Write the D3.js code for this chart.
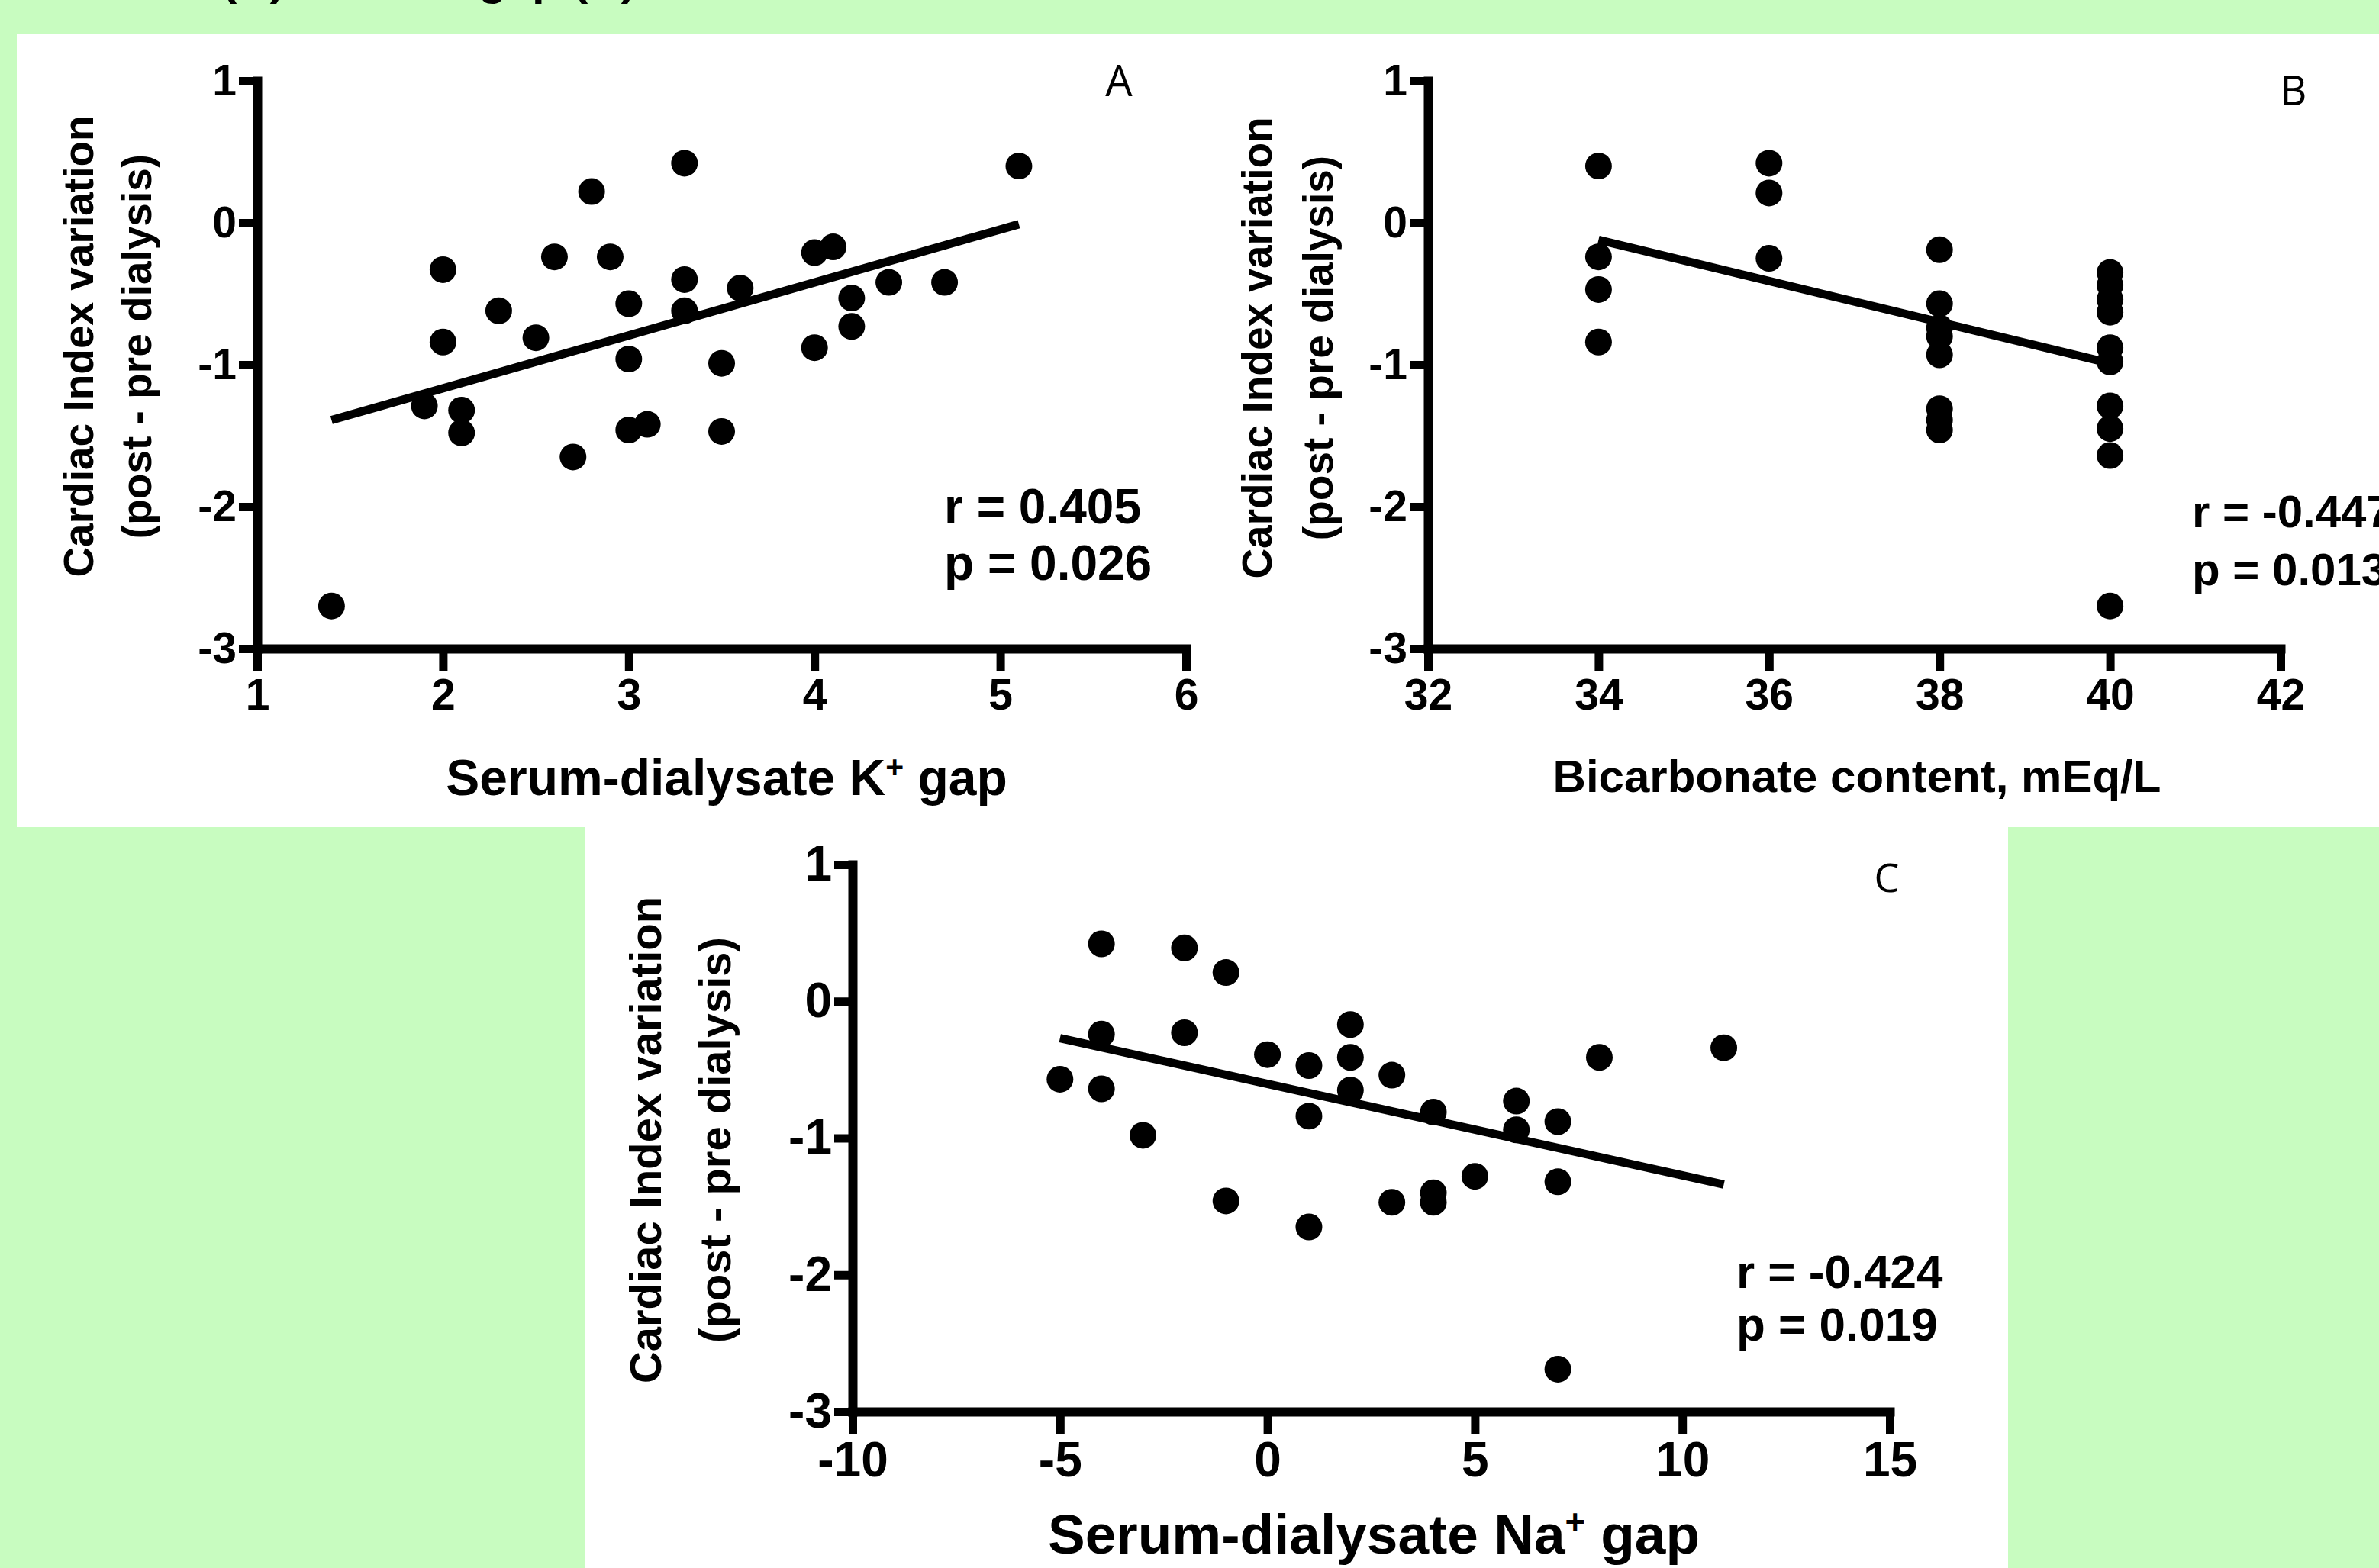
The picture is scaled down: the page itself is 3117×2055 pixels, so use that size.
<!DOCTYPE html>
<html>
<head>
<meta charset="utf-8">
<script src="https://cdn.jsdelivr.net/npm/d3@7"></script>
<style>
  html, body { margin: 0; padding: 0; background: #c8fcc0; }
  svg { display: block; }
</style>
</head>
<body>
<div id="chart"></div>
<script>
// A - serum-dialysate K+ gap
var kGap = [1.4, 1.9, 2.0, 2.0, 2.1, 2.1, 2.3, 2.5, 2.6, 2.7, 2.8, 2.9, 3.0, 3.0, 3.0,
            3.1, 3.3, 3.3, 3.3, 3.5, 3.5, 3.6, 4.0, 4.0, 4.1, 4.2, 4.2, 4.4, 4.7, 5.1];
var kCI = [-2.70, -1.29, -0.33, -0.84, -1.32, -1.48, -0.62, -0.81, -0.24, -1.65, 0.22, -0.24, -0.57, -0.96, -1.46,
           -1.42, 0.42, -0.40, -0.62, -0.99, -1.47, -0.46, -0.88, -0.21, -0.17, -0.53, -0.73, -0.42, -0.42, 0.40];
var kFitX = [1.4, 5.1];
var kFitY = [-1.39, -0.01];
var kTicks = [1, 2, 3, 4, 5, 6];
var kStats = ["r = 0.405", "p = 0.026"];

// B - bicarbonate content
var bicarb = [34, 34, 34, 34, 36, 36, 36, 38, 38, 38, 38, 38, 38, 38, 38,
              40, 40, 40, 40, 40, 40, 40, 40, 40, 40];
var bicarbCI = [0.40, -0.24, -0.47, -0.84, 0.42, 0.21, -0.25, -0.19, -0.57, -0.74, -0.80, -0.93, -1.31, -1.39, -1.46,
                -0.35, -0.44, -0.54, -0.63, -0.88, -0.98, -1.29, -1.45, -1.64, -2.70];
var bicarbFitX = [34, 40];
var bicarbFitY = [-0.12, -0.99];
var bicarbTicks = [32, 34, 36, 38, 40, 42];
var bicarbStats = ["r = -0.447", "p = 0.013"];

// C - serum-dialysate Na+ gap
var naGap = [-5, -4, -4, -4, -3, -2, -2, -1, -1, 0, 1, 1, 1, 2, 2,
             2, 3, 3, 4, 4, 4, 5, 6, 6, 7, 7, 7, 8, 11];
var naCI = [-0.57, 0.42, -0.24, -0.64, -0.98, 0.39, -0.23, 0.21, -1.46, -0.39, -0.47, -0.84, -1.65, -0.17, -0.41,
            -0.65, -0.54, -1.47, -0.81, -1.40, -1.47, -1.28, -0.73, -0.94, -0.88, -1.32, -2.69, -0.41, -0.34];
var naFitX = [-5, 11];
var naFitY = [-0.27, -1.34];
var naTicks = [-10, -5, 0, 5, 10, 15];
var naStats = ["r = -0.424", "p = 0.019"];

var ciTicks = [1, 0, -1, -2, -3];
var yTitle = ["Cardiac Index variation", "(post - pre dialysis)"];

var W = 3117, H = 2055;
var bold = "'Liberation Sans', Arial, sans-serif";

var svg = d3.select("#chart").append("svg")
  .attr("width", W)
  .attr("height", H);

svg.append("rect")
  .attr("width", W)
  .attr("height", H)
  .attr("fill", "#c8fcc0");

// title line, almost all of it is above the top edge
svg.append("text")
  .attr("x", 57)
  .attr("y", -7)
  .attr("font-family", bold)
  .attr("font-weight", "bold")
  .attr("font-size", 60)
  .text("content (B) and Na\u207A gap (C)");

svg.append("rect").attr("x", 22).attr("y", 44).attr("width", W - 22).attr("height", 1040).attr("fill", "#fff");
svg.append("rect").attr("x", 766).attr("y", 1080).attr("width", 1865).attr("height", H - 1080).attr("fill", "#fff");

function drawPanel(o) {
  var x = d3.scaleLinear().domain(o.xDomain).range([o.left, o.right]);
  var y = d3.scaleLinear().domain([-3, 1]).range([o.bottom, o.top]);
  var g = svg.append("g").attr("class", "panel");

  var xAxis = d3.axisBottom(x)
    .tickValues(o.xTicks)
    .tickSize(30)
    .tickSizeOuter(0)
    .tickPadding(10)
    .tickFormat(String);
  var yAxis = d3.axisLeft(y)
    .tickValues(ciTicks)
    .tickSize(24)
    .tickSizeOuter(0)
    .tickPadding(3)
    .tickFormat(String);

  var gx = g.append("g")
    .attr("transform", "translate(0," + o.bottom + ")")
    .call(xAxis);
  var gy = g.append("g")
    .attr("transform", "translate(" + o.left + ",0)")
    .call(yAxis);

  [gx, gy].forEach(function(a) {
    a.attr("font-family", bold)
      .attr("font-weight", "bold")
      .attr("font-size", o.tickFont);
    a.select(".domain")
      .attr("stroke", "#000")
      .attr("stroke-width", 12)
      .attr("stroke-linecap", "square");
    a.selectAll(".tick line")
      .attr("stroke", "#000")
      .attr("stroke-width", 11);
    a.selectAll(".tick text").attr("fill", "#000");
  });

  // regression line
  var line = d3.line()
    .x(function(d) { return x(d[0]); })
    .y(function(d) { return y(d[1]); });
  g.append("path")
    .datum(d3.zip(o.fitX, o.fitY))
    .attr("d", line)
    .attr("fill", "none")
    .attr("stroke", "#000")
    .attr("stroke-width", 11);

  g.selectAll(".dot")
    .data(d3.zip(o.xs, o.ys))
    .enter()
    .append("circle")
    .attr("class", "dot")
    .attr("cx", function(d) { return x(d[0]); })
    .attr("cy", function(d) { return y(d[1]); })
    .attr("r", 17.5)
    .attr("fill", "#000");

  // y title, two rotated lines
  yTitle.forEach(function(t, i) {
    g.append("text")
      .attr("transform", "translate(" + o.yTitleX[i] + "," + o.yTitleY + ") rotate(-90)")
      .attr("dy", "0.36em")
      .attr("text-anchor", "middle")
      .attr("font-family", bold)
      .attr("font-weight", "bold")
      .attr("font-size", o.yTitleFont)
      .text(t);
  });

  var xt = g.append("text")
    .attr("x", o.xTitle[0])
    .attr("y", o.xTitle[1])
    .attr("text-anchor", "middle")
    .attr("font-family", bold)
    .attr("font-weight", "bold")
    .attr("font-size", o.xTitleFont);
  xt.append("tspan").text(o.xTitleText[0]);
  if (o.xTitleText.length > 1) {
    xt.append("tspan").attr("dy", -o.xTitleFont * 0.35).attr("font-size", o.xTitleFont * 0.62).text(o.xTitleText[1]);
    xt.append("tspan").attr("dy", o.xTitleFont * 0.35).text(o.xTitleText[2]);
  }

  g.append("text")
    .attr("x", o.letter[0])
    .attr("y", o.letter[1])
    .attr("text-anchor", "middle")
    .attr("font-family", "'Open Sans', 'Liberation Sans', sans-serif")
    .attr("font-size", o.letterFont)
    .text(o.letterText);

  o.stats.forEach(function(t, i) {
    g.append("text")
      .attr("x", o.statsX)
      .attr("y", o.statsY[i])
      .attr("font-family", bold)
      .attr("font-weight", "bold")
      .attr("font-size", o.statsFont)
      .text(t);
  });
}

drawPanel({
  xs: kGap, ys: kCI, fitX: kFitX, fitY: kFitY, xTicks: kTicks, stats: kStats,
  xDomain: [1, 6], left: 337, right: 1554, top: 106, bottom: 850,
  tickFont: 57,
  yTitleX: [102, 178], yTitleY: 454, yTitleFont: 55,
  xTitle: [952, 1042], xTitleFont: 66, xTitleText: ["Serum-dialysate K", "+", " gap"],
  letter: [1466, 126], letterFont: 56, letterText: "A",
  statsX: 1237, statsY: [686, 760], statsFont: 64
});

drawPanel({
  xs: bicarb, ys: bicarbCI, fitX: bicarbFitX, fitY: bicarbFitY, xTicks: bicarbTicks, stats: bicarbStats,
  xDomain: [32, 42], left: 1871, right: 2988, top: 106, bottom: 850,
  tickFont: 57,
  yTitleX: [1646, 1726], yTitleY: 456, yTitleFont: 55,
  xTitle: [2433, 1038], xTitleFont: 60, xTitleText: ["Bicarbonate content, mEq/L"],
  letter: [3005, 138], letterFont: 54, letterText: "B",
  statsX: 2872, statsY: [691, 767], statsFont: 60
});

drawPanel({
  xs: naGap, ys: naCI, fitX: naFitX, fitY: naFitY, xTicks: naTicks, stats: naStats,
  xDomain: [-10, 15], left: 1117, right: 2476, top: 1133, bottom: 1850,
  tickFont: 64,
  yTitleX: [845, 936], yTitleY: 1494, yTitleFont: 58,
  xTitle: [1800, 2036], xTitleFont: 73, xTitleText: ["Serum-dialysate Na", "+", " gap"],
  letter: [2472, 1169], letterFont: 52, letterText: "C",
  statsX: 2275, statsY: [1688, 1757], statsFont: 62
});
</script>
</body>
</html>
